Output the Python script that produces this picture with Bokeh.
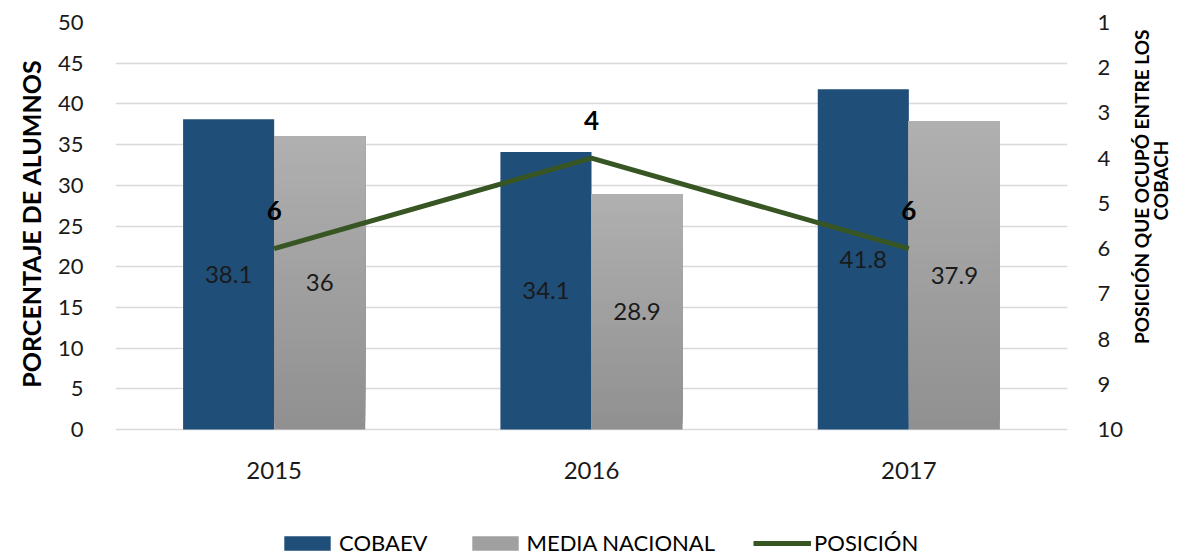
import math
from bokeh.plotting import figure
from bokeh.layouts import row
from bokeh.models import (FactorRange, Range1d, LinearAxis, Legend, LegendItem,
                          ColumnDataSource, FixedTicker)
from bokeh.transform import dodge
from bokeh.core.properties import value
from bokeh.embed import file_html
from bokeh.resources import INLINE

years = ["2015", "2016", "2017"]
cobaev = [38.1, 34.1, 41.8]
media = [36, 28.9, 37.9]
posicion = [6, 4, 6]
left_ticks = [0, 5, 10, 15, 20, 25, 30, 35, 40, 45, 50]
right_ticks = [1, 2, 3, 4, 5, 6, 7, 8, 9, 10]
left_title = "PORCENTAJE  DE  ALUMNOS"
right_title = ["POSICIÓN QUE OCUPÓ ENTRE  LOS", "COBACH"]
legend_labels = ["COBAEV", "MEDIA NACIONAL", "POSICIÓN"]

BLUE = "#1F4E79"
GREEN = "#375623"
FONT = "Lato"
TXT = "#1a1a1a"

# layout (pixels)
H = 556          # total height
TOP = 22         # frame top
PLOT_H = 407     # height of the 0..50 area
FH = H - TOP     # frame height (plot area + room for year labels / legend)
EXTRA = FH - PLOT_H
LW, RW = 50, 55  # side panels for the rotated axis titles

y_lo = -50.0 * EXTRA / PLOT_H
pos_lo = 10 + 9.0 * EXTRA / PLOT_H

p = figure(x_range=FactorRange(*years, range_padding=0), y_range=Range1d(y_lo, 50),
           frame_width=952, frame_height=FH, output_backend="svg",
           toolbar_location=None, min_border_left=115 - LW, min_border_right=63,
           min_border_top=TOP, min_border_bottom=0, outline_line_color=None,
           background_fill_color="white", border_fill_color="white")
p.extra_y_ranges = {"pos": Range1d(pos_lo, 1)}

W = 0.287
OFF = 0.1435

# COBAEV bars
src_c = ColumnDataSource(dict(x=years, top=cobaev, mid=[v / 2 for v in cobaev],
                              lab=[str(v) for v in cobaev]))
r_c = p.vbar(x=dodge("x", -OFF, range=p.x_range), top="top", bottom=0, width=W,
             source=src_c, fill_color=BLUE, line_color=None)

# MEDIA NACIONAL bars with vertical gradient (overlapping slices, no seams)
N = 40
gx, gb, gt, gc = [], [], [], []
for yr, v in zip(years, media):
    for i in range(N):
        t = (i + 0.5) / N
        g = int(round(144 + t * (176 - 144)))
        gx.append(yr)
        gb.append(v * i / N)
        gt.append(v)
        gc.append("#%02x%02x%02x" % (g, g, g))
src_g = ColumnDataSource(dict(x=gx, bottom=gb, top=gt, color=gc))
r_m = p.vbar(x=dodge("x", OFF, range=p.x_range), top="top", bottom="bottom",
             width=W, source=src_g, fill_color="color", line_color=None)

# bar value labels
src_m = ColumnDataSource(dict(x=years, mid=[v / 2 for v in media],
                              lab=[("%g" % v) for v in media]))
p.text(x=dodge("x", -OFF, range=p.x_range), y="mid", text="lab", source=src_c,
       text_align="center", text_baseline="middle", text_font=value(FONT),
       text_font_size="24px", text_color=TXT)
p.text(x=dodge("x", OFF, range=p.x_range), y="mid", text="lab", source=src_m,
       text_align="center", text_baseline="middle", text_font=value(FONT),
       text_font_size="24px", text_color=TXT)

# position line
src_p = ColumnDataSource(dict(x=years, y=posicion, lab=[str(v) for v in posicion]))
r_p = p.line(x="x", y="y", source=src_p, y_range_name="pos", line_color=GREEN,
             line_width=5)
p.text(x="x", y="y", text="lab", source=src_p, y_range_name="pos", y_offset=-38,
       text_align="center", text_baseline="middle", text_font=value(FONT),
       text_font_size="26px", text_font_style="bold", text_color="black")

# category (year) labels under the bars
src_y = ColumnDataSource(dict(x=years, y=[0] * len(years), t=years))
p.text(x="x", y="y", text="t", source=src_y, y_offset=41,
       text_align="center", text_baseline="middle", text_font=value(FONT),
       text_font_size="24px", text_color=TXT)

# grid & axes
p.xgrid.grid_line_color = None
p.ygrid.grid_line_color = "#d9d9d9"
p.ygrid.grid_line_width = 1.5
p.xaxis.visible = False


def clean(ax, standoff, size):
    ax.axis_line_color = None
    ax.major_tick_line_color = None
    ax.minor_tick_line_color = None
    ax.major_tick_out = 0
    ax.major_tick_in = 0
    ax.minor_tick_out = 0
    ax.minor_tick_in = 0
    ax.major_label_standoff = standoff
    ax.major_label_text_font = FONT
    ax.major_label_text_font_size = size
    ax.major_label_text_color = TXT


ly = p.yaxis[0]
ly.ticker = FixedTicker(ticks=left_ticks)
clean(ly, 32, "22px")

ra = LinearAxis(y_range_name="pos", ticker=FixedTicker(ticks=right_ticks))
clean(ra, 30, "22px")
p.add_layout(ra, "right")

legend = Legend(items=[LegendItem(label=legend_labels[0], renderers=[r_c]),
                       LegendItem(label=legend_labels[1], renderers=[r_m],
                                  index=N // 2),
                       LegendItem(label=legend_labels[2], renderers=[r_p])],
                orientation="horizontal", location=(163, 0),
                glyph_width=58, glyph_height=18, label_standoff=3, spacing=38,
                padding=0, margin=0, border_line_color=None,
                background_fill_alpha=0, label_text_font=FONT,
                label_text_font_size="22px", label_text_color="black")
p.add_layout(legend, "center")


def side_panel(width, xs, ys, texts, size):
    s = figure(x_range=Range1d(0, width), y_range=Range1d(H, 0),
               frame_width=width, frame_height=H, min_border=0,
               output_backend="svg", toolbar_location=None,
               x_axis_type=None, y_axis_type=None, outline_line_color=None,
               background_fill_color="white", border_fill_color="white")
    s.xgrid.grid_line_color = None
    s.ygrid.grid_line_color = None
    src = ColumnDataSource(dict(x=xs, y=ys, t=texts))
    s.text(x="x", y="y", text="t", source=src, angle=math.pi / 2,
           text_align="center", text_baseline="middle", text_font=value(FONT),
           text_font_size=size, text_font_style="bold", text_color="black")
    return s


lside = side_panel(LW, [30], [195], [left_title], "25px")
rside = side_panel(RW, [11, 30], [162, 158], right_title, "19px")

layout = row(lside, p, rside, spacing=0)
open("out.html", "w").write(file_html(layout, INLINE))
